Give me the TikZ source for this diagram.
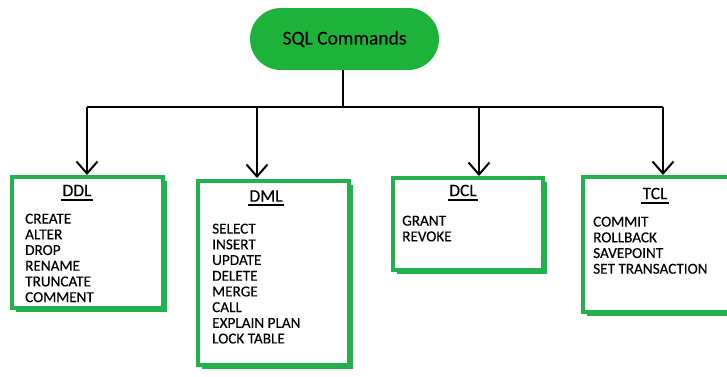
\documentclass[tikz,border=0pt]{standalone}
\usepackage{fontspec}
\setmainfont{Carlito}[BoldFont=Carlito, BoldFeatures={FakeBold=0.25}]
\usetikzlibrary{arrows.meta,calc}
\definecolor{gborder}{RGB}{34,177,76}
\definecolor{gpill}{RGB}{29,179,58}
\tikzset{
  x=1pt, y=-1pt,
  pill/.style={fill=gpill, rounded corners=31pt, inner sep=0pt},
  boxshape/.style={draw=gborder, line width=4pt, fill=white},
  boxshadow/.style={fill=gborder},
  wire/.style={line width=2pt, black},
  arr/.style={wire, -{Straight Barb[length=12pt,width=21pt,line width=2pt]}, shorten >=2pt},
  ttl/.style={inner sep=0pt, anchor=center, font=\fontsize{17.5}{17.5}\selectfont\bfseries},
  items/.style={inner sep=0pt, anchor=north west, align=left, font=\fontsize{15.2}{15.7}\selectfont\bfseries},
  uline/.style={line width=2pt, black}
}
\begin{document}
\begin{tikzpicture}
\useasboundingbox (0,0) rectangle (727,376);
% root
\fill[pill] (250,8) rectangle (439,70);
\node[inner sep=0pt, font=\fontsize{19.5}{19.5}\selectfont\bfseries] (root) at (344.5,39) {SQL Commands};
\coordinate (rootb) at (343,70);
\coordinate (j) at (343,107);
\coordinate (b1) at (87,107);
\coordinate (b2) at (257,107);
\coordinate (b3) at (479,107);
\coordinate (b4) at (663,107);
% boxes: shadows
\fill[boxshadow] (16,181) rectangle (167,312);
\fill[boxshadow] (202,185) rectangle (353,369);
\fill[boxshadow] (397,182) rectangle (547,274);
\fill[boxshadow] (587,181) rectangle (739,316);
% boxes
\draw[boxshape] (12,177) rectangle (163,308);
\draw[boxshape] (198,181) rectangle (349,365);
\draw[boxshape] (393,178) rectangle (543,270);
\draw[boxshape] (583,177) rectangle (735,312);
\coordinate (ddltop) at (87,177);
\coordinate (dmltop) at (257,180);
\coordinate (dcltop) at (479,178);
\coordinate (tcltop) at (663,177);
% connectors
\draw[wire] (rootb) -- (j);
\draw[wire] (b1) -- (b4);
\draw[arr] (b1) -- (ddltop);
\draw[arr] (b2) -- (dmltop);
\draw[arr] (b3) -- (dcltop);
\draw[arr] (b4) -- (tcltop);
% titles
\node[ttl] (ddl) at (77,190.5) {DDL};
\node[ttl] (dml) at (266,196) {DML};
\node[ttl] (dcl) at (463,190.5) {DCL};
\node[ttl] (tcl) at (655,193.5) {TCL};
\draw[uline] ($(ddl.south west)+(-1,3.5)$) -- ($(ddl.south east)+(1,3.5)$);
\draw[uline] ($(dml.south west)+(-1,3.5)$) -- ($(dml.south east)+(1,3.5)$);
\draw[uline] ($(dcl.south west)+(-1,3.5)$) -- ($(dcl.south east)+(1,3.5)$);
\draw[uline] ($(tcl.south west)+(-1,3.5)$) -- ($(tcl.south east)+(1,3.5)$);
% items
\node[items] (ddli) at (25,213.5) {CREATE\\ALTER\\DROP\\RENAME\\TRUNCATE\\COMMENT};
\node[items] (dmli) at (212,223.5) {SELECT\\INSERT\\UPDATE\\DELETE\\MERGE\\CALL\\EXPLAIN PLAN\\LOCK TABLE};
\node[items] (dcli) at (402,215.5) {GRANT\\REVOKE};
\node[items] (tcli) at (593,216.5) {COMMIT\\ROLLBACK\\SAVEPOINT\\SET TRANSACTION};
\end{tikzpicture}
\end{document}
